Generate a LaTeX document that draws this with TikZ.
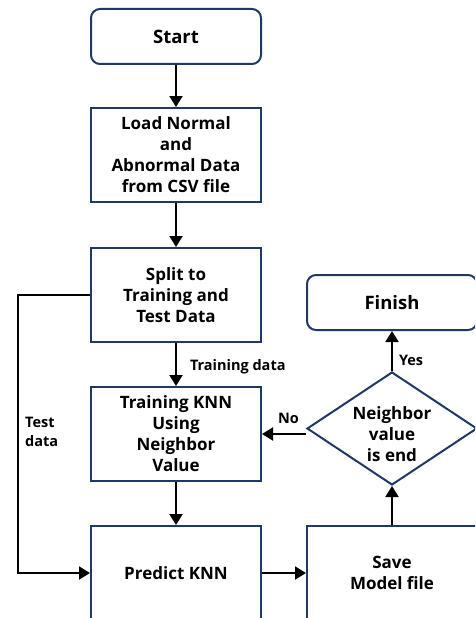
\documentclass[tikz,border=0pt]{standalone}
\usepackage{fontspec}
\setmainfont{Open Sans}
\usetikzlibrary{arrows.meta,shapes.geometric}
\definecolor{boxline}{RGB}{31,56,100}
\tikzset{
  base/.style={draw=boxline, line width=2pt, minimum width=170pt, inner sep=0pt, align=center, font=\bfseries\fontsize{17}{21}\selectfont},
  procbox/.style={base, rectangle, minimum height=94pt},
  termbox/.style={base, rectangle, rounded corners=9pt, minimum height=55pt, font=\bfseries\fontsize{18.5}{22}\selectfont},
  decbox/.style={draw=boxline, line width=2pt, shape=diamond, minimum width=170pt, minimum height=113pt, inner sep=0pt},
  txt/.style={align=center, inner sep=0pt, font=\bfseries\fontsize{17}{21}\selectfont},
  lbl/.style={inner sep=0pt, align=left, font=\bfseries\fontsize{14.5}{19}\selectfont},
  arr/.style={line width=2pt, -{Triangle[length=11pt,width=13pt]}},
  ln/.style={line width=2pt}
}
\begin{document}
\begin{tikzpicture}[x=1pt,y=-1pt]
\useasboundingbox (0,0) rectangle (475,618);
\clip (0,0) rectangle (475,618);
\node[termbox] (start) at (176,36.5) {Start};
\node[procbox] (load) at (176,155) {Load Normal\\and\\Abnormal Data\\from CSV file};
\node[procbox] (split) at (176,295) {Split to\\Training and\\Test Data};
\node[procbox] (train) at (176,434) {Training KNN\\Using\\Neighbor\\Value};
\node[procbox] (predict) at (176,573) {Predict KNN};
\node[procbox] (save) at (392,573) {Save\\Model file};
\node[termbox] (finish) at (392,302.5) {Finish};
\node[decbox] (dec) at (392,428.5) {};
\node[txt] (dectxt) at (392,434) {Neighbor\\value\\is end};
\coordinate (leftline) at (18,0);
\draw[arr] (start.south) -- (load.north);
\draw[arr] (load.south) -- (split.north);
\draw[arr] (split.south) -- node[lbl, anchor=west, xshift=13pt, pos=0.55] (ltrain) {Training data} (train.north);
\draw[arr] (train.south) -- (predict.north);
\draw[arr] (split.west) -- (split.west -| leftline) |- (predict.west);
\node[lbl, anchor=north west] (ltest) at (25,417) {Test\\data};
\draw[arr] (predict.east) -- (save.west);
\draw[arr] (save.north) -- (dec.south);
\draw[arr] (dec.north) -- node[lbl, anchor=west, xshift=6pt, pos=0.27] (lyes) {Yes} (finish.south);
\draw[arr] (dec.west |- train.east) -- node[lbl, anchor=south, pos=0.4, yshift=9pt] (lno) {No} (train.east);
\end{tikzpicture}
\end{document}
